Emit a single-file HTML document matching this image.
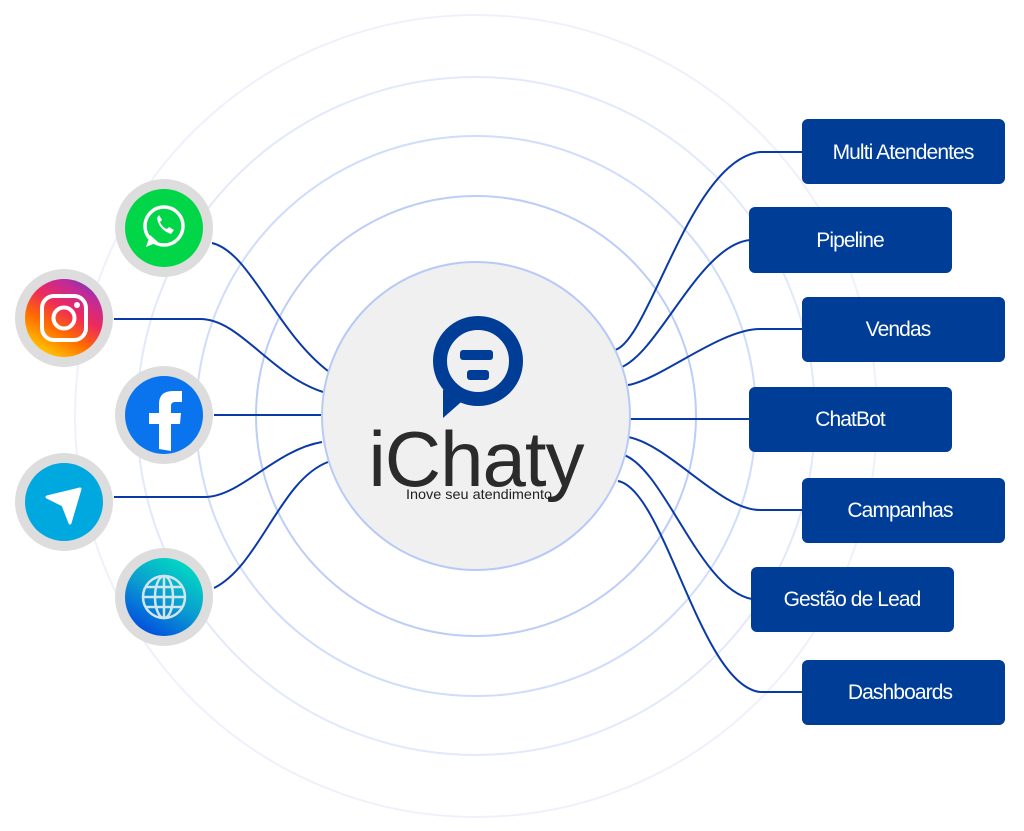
<!DOCTYPE html>
<html><head><meta charset="utf-8"><style>
html,body{margin:0;padding:0;background:#fff;width:1024px;height:831px;overflow:hidden}
svg{display:block}
.b{fill:#003d96}
.t{fill:#fff;font-family:"Liberation Sans",sans-serif;font-size:21px;letter-spacing:-0.9px;text-anchor:middle}
.c{fill:none;stroke:#0a3aa8;stroke-width:2}
</style></head><body>
<svg width="1024" height="831" viewBox="0 0 1024 831">
<defs>
<linearGradient id="ig" x1="0.2" y1="1" x2="0.8" y2="0">
<stop offset="0" stop-color="#ffd600"/><stop offset="0.35" stop-color="#ff6a00"/><stop offset="0.6" stop-color="#ee2a5b"/><stop offset="0.85" stop-color="#c02a9a"/><stop offset="1" stop-color="#6a3bb7"/></linearGradient>
<linearGradient id="gl" x1="0.2" y1="1" x2="0.8" y2="0">
<stop offset="0" stop-color="#0046e0"/><stop offset="0.5" stop-color="#0a9dd0"/><stop offset="1" stop-color="#00e0c0"/></linearGradient>
</defs>
<g fill="none">
<circle cx="476" cy="416" r="401" stroke="#eef1fc" stroke-width="2"/>
<circle cx="476" cy="416" r="339" stroke="#e2e9fc" stroke-width="2"/>
<circle cx="476" cy="416" r="280" stroke="#cfdcfb" stroke-width="2"/>
<circle cx="476" cy="416" r="220" stroke="#bccdf8" stroke-width="2"/>
</g>
<path class="c" d="M212,243 C250,252 275,330 328,371"/>
<path class="c" d="M114,319 L200,319 C240,319 270,375 323,392"/>
<path class="c" d="M214,415 L322,415"/>
<path class="c" d="M114,497 L205,497 C240,497 275,450 322,442"/>
<path class="c" d="M214,588 C260,565 280,480 328,462"/>
<path class="c" d="M615,350 C650,340 690,160 760,152 L803,152"/>
<path class="c" d="M622,367 C660,350 700,245 750,240"/>
<path class="c" d="M628,385 C660,380 720,329 760,329 L803,329"/>
<path class="c" d="M630,419 L750,419"/>
<path class="c" d="M628,437 C670,445 720,510 760,510 L803,510"/>
<path class="c" d="M624,455 C665,470 700,590 752,599"/>
<path class="c" d="M618,481 C665,490 700,685 760,692 L803,692"/>
<circle cx="476" cy="416" r="154" fill="#f0f0f0" stroke="#b7c9f7" stroke-width="2"/>
<circle cx="478" cy="361" r="38" fill="none" stroke="#003d96" stroke-width="14"/>
<path d="M443,390 L443,418 L468,396 Z" fill="#003d96"/>
<rect x="460" y="350" width="33" height="10" rx="3" fill="#003d96"/>
<rect x="467" y="370" width="22" height="10" rx="3" fill="#003d96"/>
<text x="476" y="486" font-family="Liberation Sans,sans-serif" font-size="78" fill="#2b2b2b" text-anchor="middle" letter-spacing="-1">iChaty</text>
<text x="406" y="499" font-family="Liberation Sans,sans-serif" font-size="14" fill="#222" textLength="146" lengthAdjust="spacingAndGlyphs">Inove seu atendimento</text>
<g>
<circle cx="164" cy="228" r="49" fill="#ddd"/><circle cx="164" cy="228" r="39" fill="#00d647"/>
<circle cx="164" cy="226" r="19" fill="none" stroke="#fff" stroke-width="3.5"/>
<path d="M146,247 L150,235 L158,242 Z" fill="#fff"/>
<path d="M157,218 q2,12 14,16 l3,-4 -5,-3 -2,2 q-5,-2 -7,-7 l2,-2 -3,-5z" fill="#fff"/>
<circle cx="64" cy="318" r="49" fill="#ddd"/><circle cx="64" cy="318" r="39" fill="url(#ig)"/>
<rect x="42" y="296" width="44" height="44" rx="12" fill="none" stroke="#fff" stroke-width="4"/>
<circle cx="64" cy="318" r="10.5" fill="none" stroke="#fff" stroke-width="4"/>
<circle cx="77" cy="305" r="3" fill="#fff"/>
<circle cx="164" cy="415" r="49" fill="#ddd"/><circle cx="164" cy="415" r="39" fill="#0a74ee"/>
<path d="M159,449 L159,424 L149,424 L149,413 L159,413 L159,404 Q159,391 173,391 L182,391 L182,402 L175,402 Q171,402 171,406 L171,413 L181,413 L180,424 L171,424 L171,451 Z" fill="#fff"/>
<circle cx="64" cy="502" r="49" fill="#ddd"/><circle cx="64" cy="502" r="39" fill="#00a8e0"/>
<path d="M47,497 L80,489 L70,523 L63,505 Z" fill="#fff" stroke="#fff" stroke-width="3" stroke-linejoin="round"/>
<circle cx="164" cy="597" r="49" fill="#ddd"/><circle cx="164" cy="597" r="39" fill="url(#gl)"/>
<g fill="none" stroke="#cfe6ef" stroke-width="2.5">
<circle cx="164" cy="597" r="21"/><ellipse cx="164" cy="597" rx="9" ry="21"/>
<line x1="164" y1="576" x2="164" y2="618"/><line x1="143" y1="597" x2="185" y2="597"/>
<line x1="146" y1="587" x2="182" y2="587"/><line x1="146" y1="607" x2="182" y2="607"/></g>
</g>
<rect class="b" x="802" y="119" width="203" height="65" rx="6"/><text class="t" x="903" y="159">Multi Atendentes</text>
<rect class="b" x="749" y="207" width="203" height="66" rx="6"/><text class="t" x="850" y="247">Pipeline</text>
<rect class="b" x="802" y="297" width="203" height="65" rx="6"/><text class="t" x="898" y="336">Vendas</text>
<rect class="b" x="749" y="387" width="203" height="65" rx="6"/><text class="t" x="850" y="426">ChatBot</text>
<rect class="b" x="802" y="478" width="203" height="65" rx="6"/><text class="t" x="900" y="517">Campanhas</text>
<rect class="b" x="751" y="567" width="203" height="65" rx="6"/><text class="t" x="852" y="606">Gestão de Lead</text>
<rect class="b" x="802" y="660" width="203" height="65" rx="6"/><text class="t" x="900" y="699">Dashboards</text>
</svg>
</body></html>
